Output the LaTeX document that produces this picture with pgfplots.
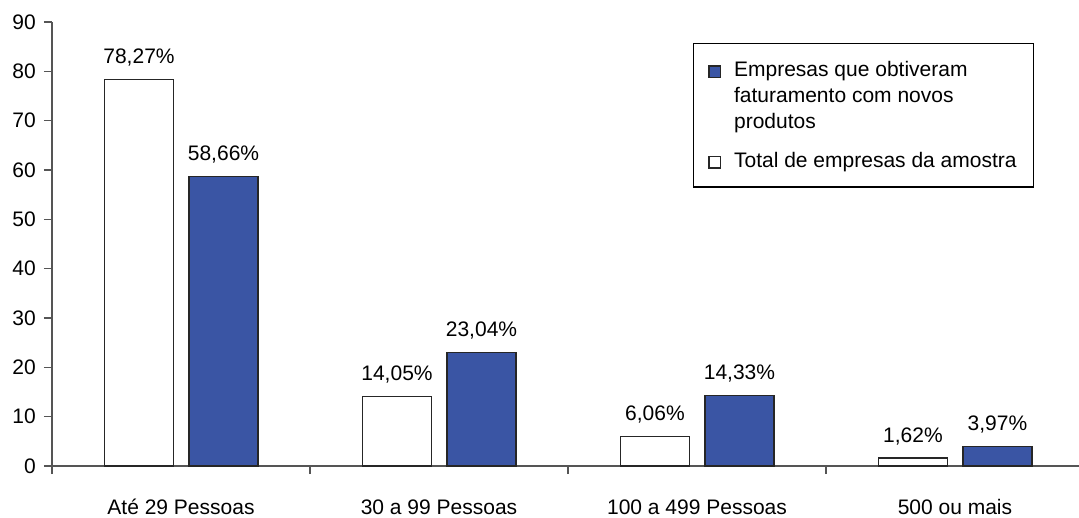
\documentclass[border=0pt]{standalone}
\usepackage{fontspec}
\setmainfont{Liberation Sans}
\usepackage{pgfplots}
\pgfplotsset{compat=1.18}
\pgfplotsset{/pgf/number format/assume math mode=true}
\definecolor{barblue}{RGB}{58,85,164}
\definecolor{axgray}{RGB}{85,85,85}
\newcommand{\rowF}{\rule[-4pt]{0pt}{19.5pt}}
\newcommand{\rowA}{\rule[-4pt]{0pt}{24.5pt}}
\newcommand{\rowB}{\rule[-4pt]{0pt}{37pt}}
\begin{document}
\begin{tikzpicture}[font=\fontsize{21}{25}\selectfont]
\path[use as bounding box] (-52pt,-51pt) rectangle (1027pt,466pt);
\begin{axis}[
  at={(0pt,0pt)}, anchor=south west,
  scale only axis, width=1027pt, height=444pt,
  xmin=-0.5, xmax=3.4806, ymin=0, ymax=90,
  ytick={0,10,...,90},
  xtick={0,1,2,3},
  xticklabels={Até 29 Pessoas, 30 a 99 Pessoas, 100 a 499 Pessoas, 500 ou mais},
  minor xtick={-0.5,0.5,1.5,2.5,3.5},
  axis x line=bottom, axis y line=left,
  axis line style={-, line width=1.2pt, draw=axgray},
  tick style={line width=1.2pt, draw=axgray},
  major x tick style={draw=none},
  tick align=outside,
  major tick length=8pt, minor tick length=8pt,
  yticklabel style={inner sep=0pt, xshift=-8pt},
  xticklabel style={inner sep=0pt, anchor=base, yshift=-40pt},
  legend style={at={(0.624,0.953)}, anchor=north west, draw=black, line width=1.2pt,
    inner xsep=15pt, inner ysep=16pt, row sep=0pt, column sep=11pt,
    cells={anchor=base west, inner sep=0pt}},
  legend image code/.code={\draw[#1, line width=1.2pt] (0pt,-0.5pt) rectangle (11.5pt,11pt);},
  every node near coord/.append style={anchor=base, yshift=16pt, inner sep=0pt, black},
  nodes near coords={\pgfmathprintnumber[fixed,fixed zerofill,precision=2,use comma]{\pgfplotspointmeta}\%},
]
\addplot[ybar, bar width=69pt, bar shift=42.5pt, fill=barblue, draw=black!85, line width=1.2pt,
  every node near coord/.append style={xshift=42.5pt}]
  coordinates {(0,58.66) (1,23.04) (2,14.33) (3,3.97)};
\addlegendentry{\rowF Empresas que obtiveram}
\addlegendimage{empty legend}
\addlegendentry{\rowA faturamento com novos}
\addlegendimage{empty legend}
\addlegendentry{\rowA produtos}
\addplot[ybar, bar width=69pt, bar shift=-42pt, fill=white, draw=black!85, line width=1.2pt,
  every node near coord/.append style={xshift=-42pt}]
  coordinates {(0,78.27) (1,14.05) (2,6.06) (3,1.62)};
\addlegendentry{\rowB Total de empresas da amostra}
\end{axis}
\end{tikzpicture}
\end{document}
